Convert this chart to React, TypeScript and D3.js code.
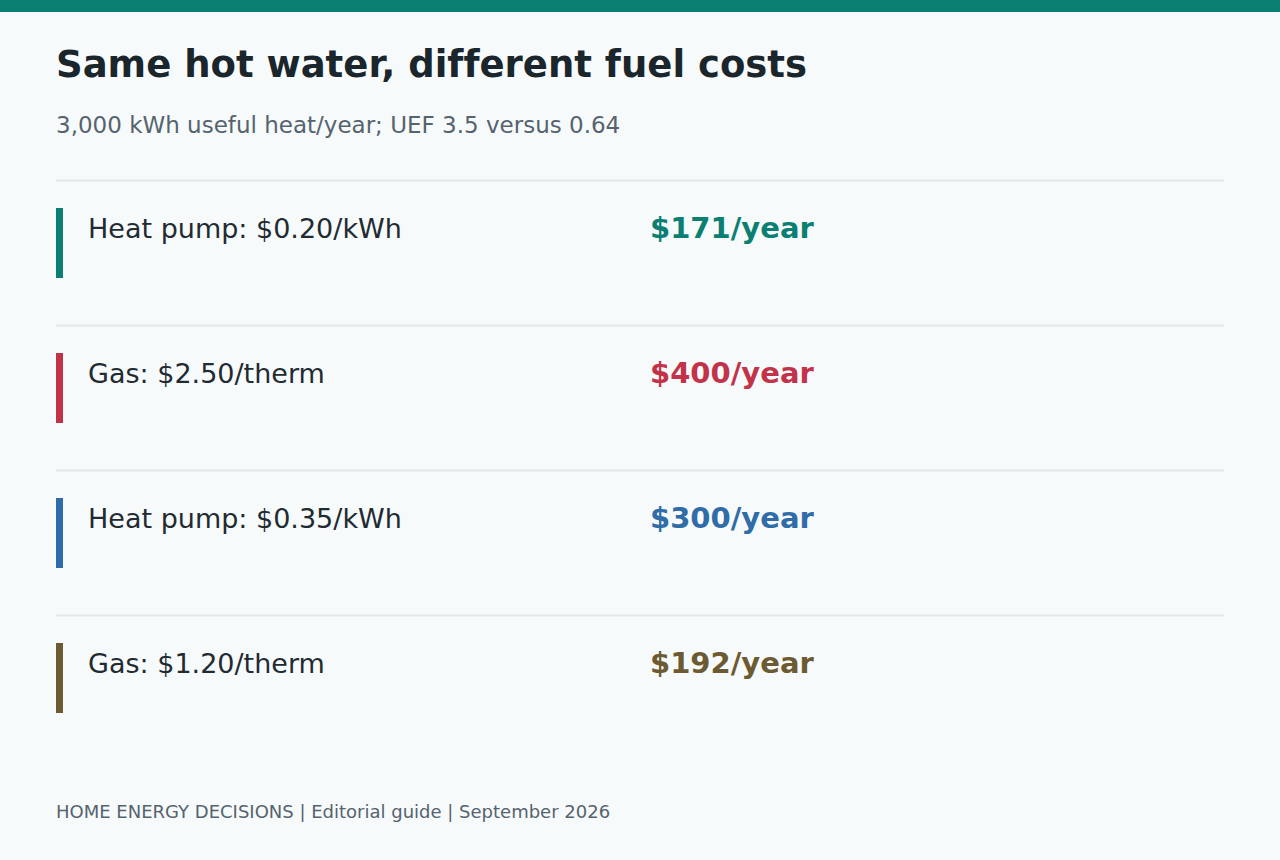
import { useEffect, useRef } from "react";
import * as d3 from "d3";

const scenarios = ["Heat pump: $0.20/kWh", "Gas: $2.50/therm", "Heat pump: $0.35/kWh", "Gas: $1.20/therm"];
const annualCost = [171, 400, 300, 192];
const accentColors = ["#0a7f72", "#c2334a", "#2f6ca8", "#6c5a32"];

const title = "Same hot water, different fuel costs";
const subtitle = "3,000 kWh useful heat/year; UEF 3.5 versus 0.64";
const footer = "HOME ENERGY DECISIONS | Editorial guide | September 2026";

const App = () => {
  const svgRef = useRef<SVGSVGElement>(null);

  useEffect(() => {
    if (!svgRef.current) return;
    document.body.style.margin = "0";

    const width = 1280;
    const height = 860;
    const left = 56;
    const right = 1224;
    const font = "'DejaVu Sans', sans-serif";

    const svg = d3.select(svgRef.current);
    svg.selectAll("*").remove();
    svg.attr("width", width).attr("height", height).attr("viewBox", `0 0 ${width} ${height}`)
      .style("font-variant-ligatures", "none");

    svg.append("rect").attr("width", width).attr("height", height).attr("fill", "#f7fafb");
    svg.append("rect").attr("width", width).attr("height", 12).attr("fill", "#0a7f72");

    svg.append("text")
      .attr("x", left)
      .attr("y", 77)
      .style("font-family", font)
      .style("font-size", "37px")
      .style("font-weight", "700")
      .attr("fill", "#1a262c")
      .text(title);

    svg.append("text")
      .attr("x", left)
      .attr("y", 133)
      .style("font-family", font)
      .style("font-size", "23px")
      .attr("fill", "#55636e")
      .text(subtitle);

    const idx = scenarios.map((_, i) => i);
    const y = d3.scaleBand<number>().domain(idx).range([180, 760]).paddingInner(0);

    const rows = svg.selectAll("g.row")
      .data(idx)
      .join("g")
      .attr("class", "row")
      .attr("transform", d => `translate(0,${y(d)})`);

    rows.append("line")
      .attr("x1", left)
      .attr("x2", right)
      .attr("y1", 0.5)
      .attr("y2", 0.5)
      .attr("stroke", "#e2e7e9")
      .attr("stroke-width", 2);

    rows.append("rect")
      .attr("x", left)
      .attr("y", 28)
      .attr("width", 7)
      .attr("height", 70)
      .attr("fill", d => accentColors[d]);

    rows.append("text")
      .attr("x", 88)
      .attr("y", 58)
      .style("font-family", font)
      .style("font-size", "27px")
      .attr("fill", "#222b31")
      .text(d => scenarios[d]);

    rows.append("text")
      .attr("x", 650)
      .attr("y", 58)
      .style("font-family", font)
      .style("font-size", "29px")
      .style("font-weight", "700")
      .attr("fill", d => accentColors[d])
      .text(d => `$${d3.format(",")(annualCost[d])}/year`);

    svg.append("text")
      .attr("x", left)
      .attr("y", 818)
      .style("font-family", font)
      .style("font-size", "18px")
      .attr("fill", "#55636e")
      .text(footer);
  }, []);

  return (
    <div style={{ position: "absolute", top: 0, left: 0 }}>
      <svg ref={svgRef}></svg>
    </div>
  );
};

export default App;
